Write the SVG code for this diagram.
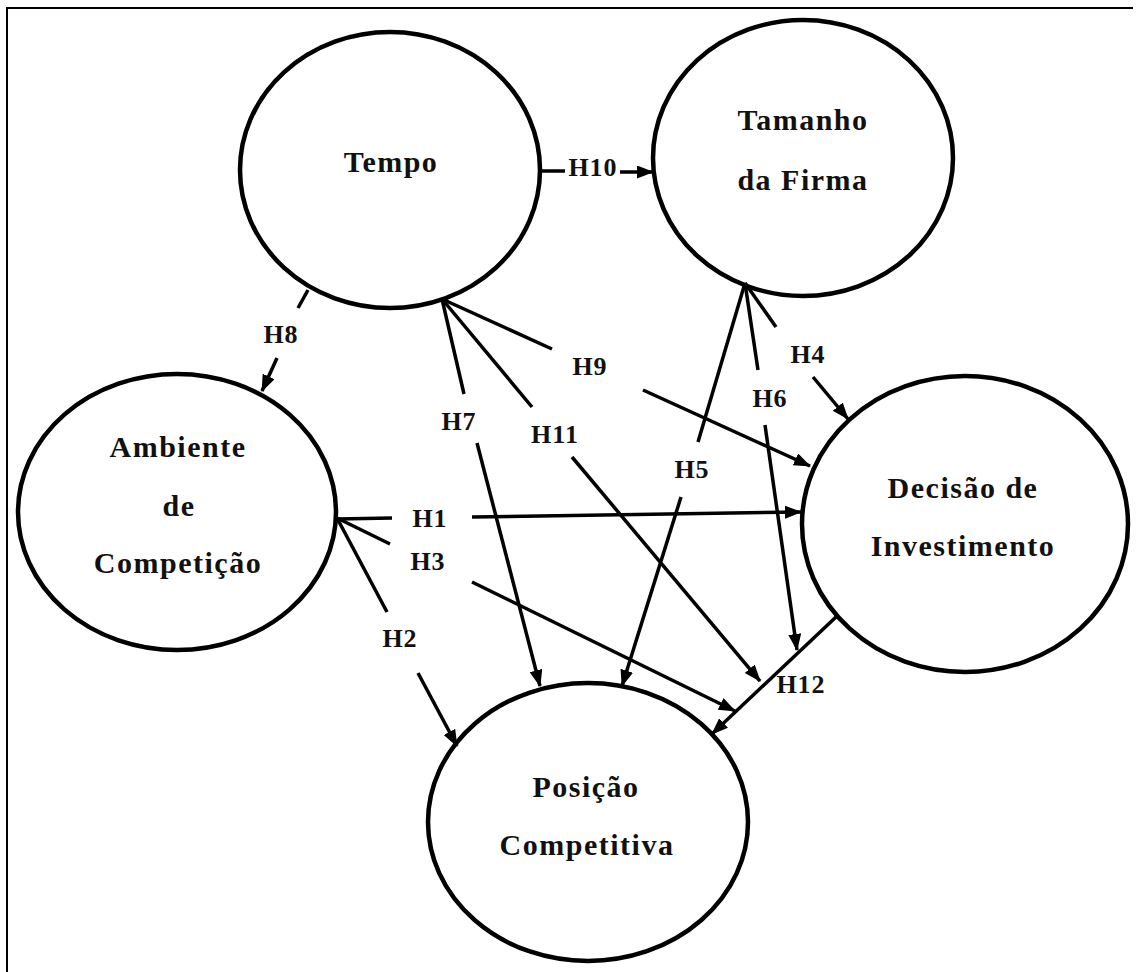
<svg xmlns="http://www.w3.org/2000/svg" width="1139" height="972" viewBox="0 0 1139 972">
<style>
.node ellipse{fill:#fff;stroke:#000;stroke-width:4.5}
.nt{font-family:"Liberation Serif","Times New Roman",serif;font-weight:bold;font-size:30px;letter-spacing:1.5px;text-anchor:middle;fill:#111}
.lb{font-family:"Liberation Serif","Times New Roman",serif;font-weight:bold;font-size:26px;letter-spacing:1px;text-anchor:middle;fill:#111}
#connectors line{stroke:#000;stroke-width:3.5;fill:none}
.arr{marker-end:url(#ah)}
</style>
<defs>
<marker id="ah" markerUnits="userSpaceOnUse" markerWidth="17" markerHeight="14" refX="16" refY="6.5" orient="auto">
<path d="M0,0 L17,6.5 L0,13 z" fill="#000"/>
</marker>
</defs>
<rect x="0" y="0" width="1139" height="972" fill="#fff"/>
<g id="frame" stroke="#000" stroke-width="2">
<line x1="6" y1="8" x2="1133" y2="8"/>
<line x1="7" y1="8" x2="7" y2="972"/>
</g>
<g id="node-tempo" class="node">
<ellipse cx="390" cy="170" rx="150" ry="138"/>
<text class="nt" x="391" y="172">Tempo</text>
</g>
<g id="node-tamanho" class="node">
<ellipse cx="803" cy="158" rx="150" ry="138"/>
<text class="nt" x="803" y="130">Tamanho</text>
<text class="nt" x="803" y="190">da Firma</text>
</g>
<g id="node-ambiente" class="node">
<ellipse cx="177" cy="512" rx="159" ry="138"/>
<text class="nt" x="178" y="457">Ambiente</text>
<text class="nt" x="179" y="516">de</text>
<text class="nt" x="178" y="573">Competição</text>
</g>
<g id="node-decisao" class="node">
<ellipse cx="965" cy="524" rx="163" ry="148"/>
<text class="nt" x="963" y="498">Decisão de</text>
<text class="nt" x="963" y="556">Investimento</text>
</g>
<g id="node-posicao" class="node">
<ellipse cx="588" cy="822" rx="160" ry="139"/>
<text class="nt" x="586" y="797">Posição</text>
<text class="nt" x="587" y="855">Competitiva</text>
</g>
<g id="connectors">
<line x1="540" y1="171" x2="565" y2="171"/>
<line class="arr" x1="620" y1="172" x2="653" y2="172"/>
<line x1="308" y1="290" x2="298" y2="308"/>
<line class="arr" x1="277" y1="358" x2="262" y2="391"/>
<line x1="442" y1="299" x2="464" y2="394"/>
<line class="arr" x1="477" y1="443" x2="540" y2="686"/>
<line x1="442" y1="299" x2="532" y2="407"/>
<line class="arr" x1="572" y1="457" x2="760" y2="681"/>
<line x1="442" y1="299" x2="552" y2="349"/>
<line class="arr" x1="643" y1="390" x2="810" y2="466"/>
<line x1="745" y1="283" x2="698" y2="442"/>
<line class="arr" x1="681" y1="497" x2="622" y2="686"/>
<line x1="745" y1="283" x2="758" y2="370"/>
<line class="arr" x1="765" y1="425" x2="797" y2="650"/>
<line x1="745" y1="283" x2="776" y2="327"/>
<line class="arr" x1="813" y1="377" x2="848" y2="419"/>
<line x1="337" y1="519" x2="392" y2="518"/>
<line class="arr" x1="472" y1="517" x2="801" y2="512"/>
<line x1="337" y1="518" x2="390" y2="544"/>
<line class="arr" x1="472" y1="582" x2="735" y2="711"/>
<line x1="337" y1="518" x2="387" y2="612"/>
<line class="arr" x1="418" y1="673" x2="457" y2="746"/>
<line class="arr" x1="836" y1="617" x2="712" y2="734"/>
<g id="labels">
<text class="lb" x="593" y="176">H10</text>
<text class="lb" x="281" y="343">H8</text>
<text class="lb" x="459" y="430">H7</text>
<text class="lb" x="555" y="443">H11</text>
<text class="lb" x="590" y="375">H9</text>
<text class="lb" x="692" y="478">H5</text>
<text class="lb" x="770" y="407">H6</text>
<text class="lb" x="808" y="363">H4</text>
<text class="lb" x="430" y="527">H1</text>
<text class="lb" x="428" y="570">H3</text>
<text class="lb" x="400" y="647">H2</text>
<text class="lb" x="801" y="693">H12</text>
</g>
</g>
</svg>
